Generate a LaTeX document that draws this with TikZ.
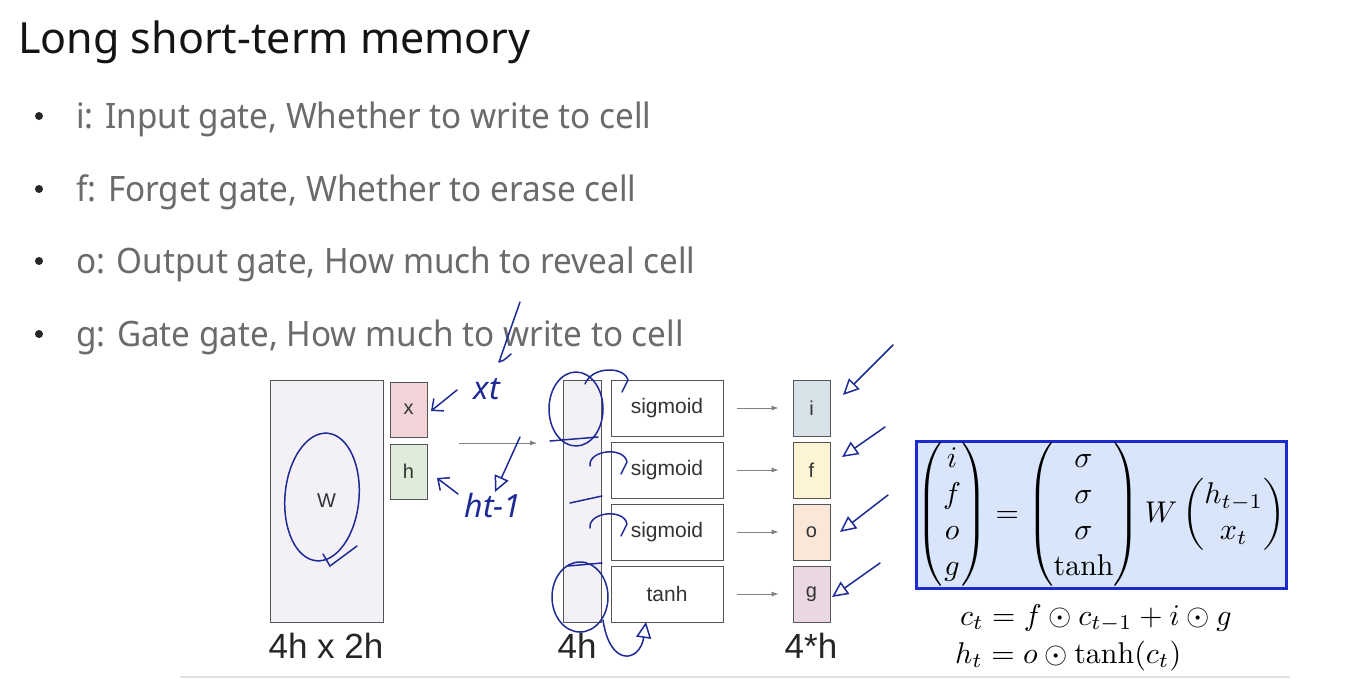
\documentclass[tikz,border=0pt]{standalone}
\usepackage{amsmath}
\usepackage{amssymb}
\usepackage{graphicx}
\usepackage{fontspec}
\usetikzlibrary{arrows.meta}
\usetikzlibrary{calc}
\newfontfamily\slidefont{Noto Sans}
\newfontfamily\itemfont[FakeStretch=0.95]{Noto Sans}
\newfontfamily\arialfont{Liberation Sans}
\definecolor{boxline}{HTML}{555555}
\definecolor{labtext}{HTML}{333333}
\definecolor{itemgray}{HTML}{6B6B6B}
\definecolor{matfill}{HTML}{F4F1F6}
\definecolor{xfill}{HTML}{F2D4D8}
\definecolor{hfill}{HTML}{E0ECDA}
\definecolor{ifill}{HTML}{D7E3E8}
\definecolor{ffill}{HTML}{FDF4D4}
\definecolor{ofill}{HTML}{FBE7D7}
\definecolor{gfill}{HTML}{EBD7E1}
\definecolor{eqfill}{HTML}{D9E5FB}
\definecolor{eqblue}{HTML}{1B2BD0}
\definecolor{inkblue}{HTML}{1E2A96}

\begin{document}
\begin{tikzpicture}[x=1pt,y=-1pt,
    wbox/.style={draw=boxline, fill=matfill, line width=1pt, inner sep=0pt,
        font=\arialfont\fontsize{20}{24}\selectfont, text=labtext},
    cellbox/.style={draw=boxline, line width=1pt, minimum width=37pt, minimum height=56pt,
        inner sep=0pt, font=\arialfont\fontsize{20}{24}\selectfont, text=labtext},
    gate/.style={draw=boxline, fill=white, line width=1pt, minimum width=112pt, minimum height=56pt,
        inner sep=0pt, font=\arialfont\fontsize{21}{25}\selectfont, text=labtext},
    flow/.style={-{Latex[length=7pt,width=5pt]}, draw=gray, line width=0.8pt},
    dimlabel/.style={anchor=base, font=\arialfont\fontsize{35}{40}\selectfont, text=black!85},
    eqbox/.style={draw=eqblue, fill=eqfill, line width=3pt, minimum width=370pt,
        minimum height=147pt, inner sep=0pt},
    eqline/.style={anchor=base west, inner sep=0pt},
    ink/.style={draw=inkblue, line width=1.5pt, line cap=round, line join=round},
    pointer/.style={ink, -{Triangle[open, length=16pt, width=15pt, line width=1.5pt]}},
    barb/.style={ink, -{Straight Barb[length=9pt, width=16pt, line width=1.5pt]}},
    inktext/.style={text=inkblue, font=\slidefont\itshape\fontsize{32}{36}\selectfont}]
    \useasboundingbox[fill=white] (0,0) rectangle (1352,688);

    % title and list
    \node[anchor=base west, inner sep=0pt, font=\slidefont\fontsize{43}{50}\selectfont, text=black!92]
        (title) at (18,53) {Long short-term memory};
    \foreach \y/\txt [count=\k] in {128/{i: Input gate, Whether to write to cell},
                                   201/{f: Forget gate, Whether to erase cell},
                                   273/{o: Output gate, How much to reveal cell},
                                   346/{g: Gate gate, How much to write to cell}} {
        \node[circle, fill=black!85, inner sep=0pt, minimum size=8pt] (dot\k) at (39,\y-12) {};
        \node[anchor=base west, inner sep=0pt, font=\itemfont\fontsize{35}{42}\selectfont, text=itemgray]
            (item\k) at (76,\y) {\txt};
    }

    % weights and inputs
    \node[wbox, minimum width=113pt, minimum height=242pt] (W) at (326.5,501) {W};
    \node[cellbox, fill=xfill, minimum height=55pt] (x) at (408.5,409.5) {x};
    \node[cellbox, fill=hfill, minimum height=55pt] (h) at (408.5,471.5) {h};
    \coordinate (inL) at (459,443);
    \coordinate (inR) at (537,443);
    \draw[flow] (inL) -- (inR);

    % activations and gates
    \node[wbox, minimum width=38pt, minimum height=242pt] (vec) at (582,501) {};
    \foreach \fn/\g/\c [count=\k] in {sigmoid/i/ifill, sigmoid/f/ffill, sigmoid/o/ofill, tanh/g/gfill} {
        \node[gate] (act\k) at (667,346+62*\k) {\fn};
        \node[cellbox, fill=\c] (out\k) at (811.5,346+62*\k) {\g};
        \draw[flow, shorten <=13pt, shorten >=14pt] (act\k) -- (out\k);
    }
    \node[dimlabel] (Wdim) at (326,658) {4h x 2h};
    \node[dimlabel] (vecdim) at (577,658) {4h};
    \node[dimlabel] (outdim) at (811,658) {4*h};

    % equations
    \node[eqbox] (gates) at (1101,514.5) {};
    \node[inner sep=0pt] (gateeq) at (gates.center)
        {\scalebox{3}{$\begin{pmatrix} i\\ f\\ o\\ g \end{pmatrix} = \begin{pmatrix} \sigma\\ \sigma\\ \sigma\\ \tanh \end{pmatrix}
          W \begin{pmatrix} h_{t-1}\\ x_t \end{pmatrix}$}};
    \node[eqline] (cell) at (960,625) {\scalebox{3}{$c_t = f \odot c_{t-1} + i \odot g$}};
    \node[eqline] (hid) at (955,663) {\scalebox{3}{$h_t = o \odot \tanh(c_t)$}};
    \draw[gray!25, line width=1.5pt] (180,677) -- (1290,677);

    % hand notes
    \draw[ink] (520,302) -- (499,362) .. controls (503,361) .. (511,354);
    \draw[ink, rotate around={-5:(322,497)}] (322,497) ellipse [x radius=37, y radius=64];
    \draw[ink] (330,566) -- (357,546);
    \draw[ink] (323,554) -- (330,566);
    \draw[barb] (457,390) -- (431,411);
    \node[inktext] (xt) at (487,389) {xt};
    \draw[barb] (458,494) -- (437,478);
    \node[inktext] (ht) at (493,505) {ht-1};
    \draw[pointer] (520,437) -- (495,492);
    \draw[ink] (576,409) ellipse [x radius=27, y radius=37];
    \draw[ink] (550,441) -- (598,437);
    \draw[ink] (585,384) .. controls (592,366) and (624,366) .. (628,380) -- (622,392);
    \draw[ink] (590,466) .. controls (588,450) and (624,446) .. (627,462) -- (621,474);
    \draw[ink] (570,503) -- (602,496);
    \draw[ink] (590,528) .. controls (588,512) and (624,508) .. (627,524) -- (621,536);
    \draw[ink] (580,597) ellipse [x radius=28, y radius=35];
    \draw[ink] (568,566) -- (602,563);
    \draw[pointer] (603,620) .. controls (610,668) and (640,662) .. (646,622);
    \foreach \sx/\sy/\ex/\ey in {893/345/843/395, 885/427/842/457, 888/495/840/532, 880/563/832/597}
        \draw[pointer] (\sx,\sy) -- (\ex,\ey);
\end{tikzpicture}
\end{document}
